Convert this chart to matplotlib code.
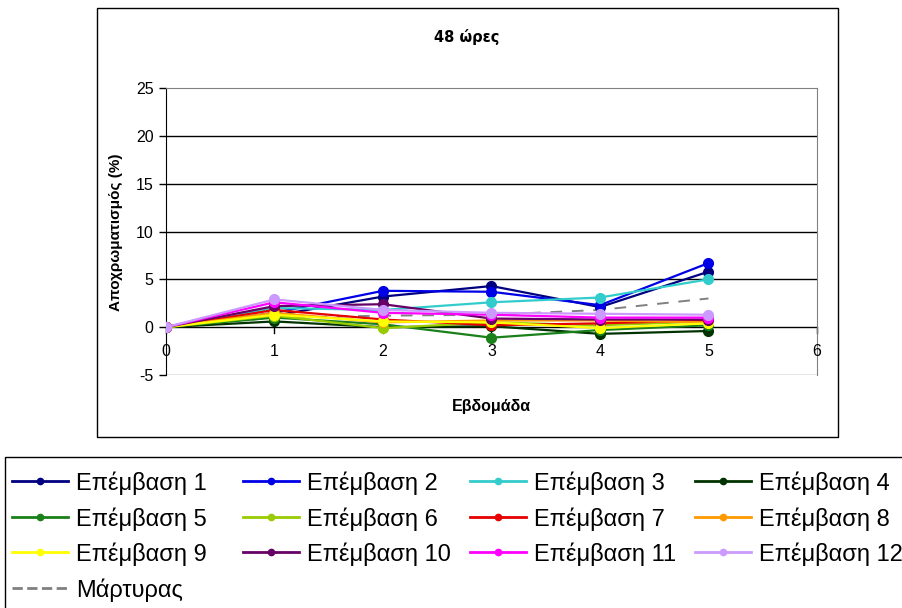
import matplotlib
matplotlib.use("Agg")
import matplotlib.pyplot as plt
from matplotlib.patches import Rectangle
from matplotlib.lines import Line2D

plt.rcParams['font.family'] = ['Liberation Sans', 'DejaVu Sans']

weeks = [0, 1, 2, 3, 4, 5]
series_names = [f"Επέμβαση {i}" for i in range(1, 13)]
control_name = "Μάρτυρας"

ep1 = [0, 1.2, 3.2, 4.3, 2.1, 5.8]
ep2 = [0, 1.5, 3.8, 3.7, 2.3, 6.7]
ep3 = [0, 2.0, 1.8, 2.6, 3.1, 5.0]
ep4 = [0, 0.6, 0.0, 0.1, -0.7, -0.4]
ep5 = [0, 1.0, 0.3, -1.1, -0.3, 0.2]
ep6 = [0, 1.2, -0.1, 0.5, 0.2, 0.6]
ep7 = [0, 1.8, 0.8, 0.2, 0.4, 0.7]
ep8 = [0, 1.5, 0.5, 0.7, 0.7, 0.5]
ep9 = [0, 1.3, 0.6, 0.5, -0.1, 0.4]
ep10 = [0, 2.2, 2.4, 0.9, 0.8, 0.8]
ep11 = [0, 2.6, 1.5, 1.3, 1.0, 1.0]
ep12 = [0, 2.9, 1.8, 1.5, 1.4, 1.3]
control = [0, 1.0, 1.2, 1.3, 1.8, 3.0]

series_values = [ep1, ep2, ep3, ep4, ep5, ep6, ep7, ep8, ep9, ep10, ep11, ep12]
colors = ["#000080", "#0000E6", "#33CCCC", "#003300", "#1A801A", "#99CC00",
          "#E60000", "#FF9900", "#FFFF00", "#660066", "#FF00FF", "#CC99FF"]

x_ticks = [0, 1, 2, 3, 4, 5, 6]
y_ticks = [-5, 0, 5, 10, 15, 20, 25]

W, H = 903, 608
fig = plt.figure(figsize=(W / 100, H / 100), dpi=100)


def fx(px):
    return px / W


def fy(py):
    return 1 - py / H


# outer chart frame
fig.patches.append(Rectangle((fx(97), fy(437)), (838 - 97) / W, (437 - 8) / H,
                             transform=fig.transFigure, fill=False, edgecolor="black",
                             linewidth=1.0))

ax = fig.add_axes([fx(166), fy(375), (817 - 166) / W, (375 - 88) / H])
ax.set_xlim(0, 6)
ax.set_ylim(-5, 25)

for y in [5, 10, 15, 20]:
    ax.axhline(y, color="black", linewidth=1.0, zorder=1)

handles = []
for name, vals, c in zip(series_names, series_values, colors):
    h, = ax.plot(weeks, vals, color=c, linewidth=1.6, marker="o", markersize=7,
                 markeredgecolor=c, label=name, zorder=3)
    handles.append(h)
hc, = ax.plot(weeks, control, color="#808080", linewidth=1.4, linestyle=(0, (6, 5)),
              label=control_name, zorder=2)

for s in ["top", "right"]:
    ax.spines[s].set_color("#808080")
ax.spines["bottom"].set_visible(False)
ax.spines["left"].set_color("black")
ax.axhline(-5, color="#808080", linewidth=1.0, zorder=1)
ax.axhline(0, color="black", linewidth=1.0, zorder=1.5)

ax.set_yticks(y_ticks)
ax.set_yticklabels([str(v) for v in y_ticks], fontsize=11.5)
ax.tick_params(axis="y", length=5, width=1, direction="out", pad=4)
ax.set_xticks(x_ticks)
ax.set_xticklabels([])
ax.tick_params(axis="x", length=0)
for xv in x_ticks:
    ax.plot([xv, xv], [0, -0.6], color="black", linewidth=1.0, zorder=1.5, clip_on=False)
    ax.text(xv, -1.8, str(xv), ha="center", va="top", fontsize=11.5)

fig.text(fx(467), fy(37), "48 ώρες", ha="center", va="center",
         fontsize=10.5, fontweight="bold", family=["DejaVu Sans"])
fig.text(fx(116), fy(232), "Αποχρωματισμός (%)", ha="center", va="center",
         rotation=90, fontsize=11, fontweight="bold")
fig.text(fx(491), fy(407), "Εβδομάδα", ha="center", va="center",
         fontsize=11.5, fontweight="bold")

# legend box below the chart, entries laid out row by row in four columns
fig.patches.append(Rectangle((fx(5), fy(640)), (940 - 5) / W, (640 - 457) / H,
                             transform=fig.transFigure, fill=False, edgecolor="black",
                             linewidth=1.0))
col_x = [12, 243, 470, 695]
row_y = [481, 517, 552, 588]
handle_len = 56
all_handles = handles + [hc]
for i, h in enumerate(all_handles):
    r, c = divmod(i, 4)
    x0 = col_x[c]
    yy = fy(row_y[r])
    fig.lines.append(Line2D([fx(x0), fx(x0 + handle_len)], [yy, yy],
                            transform=fig.transFigure, color=h.get_color(),
                            linewidth=2.0, linestyle=h.get_linestyle()))
    if h.get_marker() not in (None, "None", ""):
        fig.lines.append(Line2D([fx(x0 + handle_len / 2)], [yy],
                                transform=fig.transFigure, color=h.get_color(),
                                marker="o", markersize=4.5, linestyle="None"))
    fig.text(fx(x0 + handle_len + 8), yy, h.get_label(), ha="left", va="center_baseline",
             fontsize=17)

fig.savefig("out.png", dpi=100)
